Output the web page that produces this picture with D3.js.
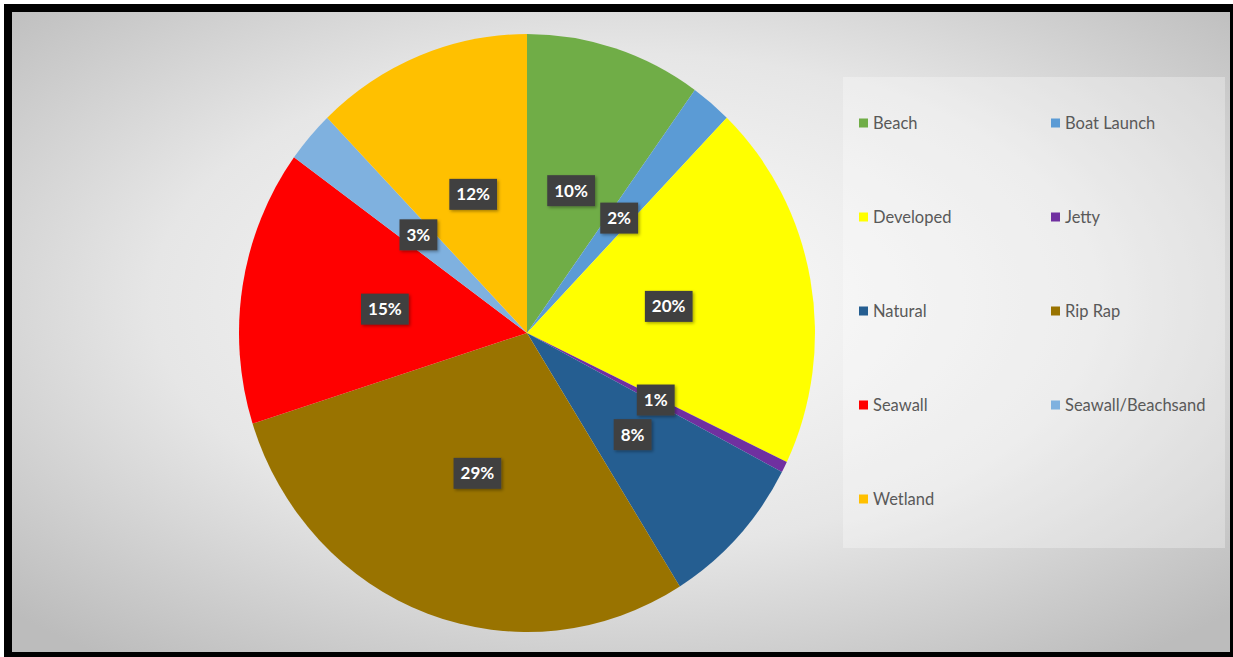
<!DOCTYPE html>
<html>
<head>
<meta charset="utf-8">
<style>
  body { margin: 0; background: #fff; }
  svg { display: block; }
  .lbl text { font-family: Lato, "Open Sans", sans-serif; font-weight: bold; font-size: 17px; fill: #fff; }
  .legend text { font-family: Lato, "Open Sans", sans-serif; font-size: 16.5px; fill: #595959; }
</style>
</head>
<body>
<svg width="1233" height="657"></svg>
<script src="https://cdn.jsdelivr.net/npm/d3@7"></script>
<script>

// shoreline types, clockwise from 12 o'clock
var categories = ["Beach", "Boat Launch", "Developed", "Jetty", "Natural", "Rip Rap", "Seawall", "Seawall/Beachsand", "Wetland"];
var values = [9.9, 2.3, 19.9, 0.6, 8.4, 29.0, 14.9, 2.8, 12.2];
var colors = ["#70ad47", "#5b9bd5", "#ffff00", "#7030a0", "#255e91", "#997300", "#ff0000", "#7fb1df", "#ffc000"];

var svg = d3.select("svg");

var defs = svg.append("defs");
var grad = defs.append("radialGradient")
    .attr("id", "bg")
    .attr("cx", "50%").attr("cy", "45%").attr("r", "70%");
grad.append("stop").attr("offset", "0%").attr("stop-color", "#fcfcfc");
grad.append("stop").attr("offset", "55%").attr("stop-color", "#e6e6e6");
grad.append("stop").attr("offset", "100%").attr("stop-color", "#bcbcbc");

var shadow = defs.append("filter").attr("id", "sh")
    .attr("x", "-20%").attr("y", "-20%").attr("width", "150%").attr("height", "150%");
shadow.append("feDropShadow")
    .attr("dx", 1.5).attr("dy", 1.5).attr("stdDeviation", 1.5)
    .attr("flood-color", "#000").attr("flood-opacity", 0.35);

// frame
svg.append("rect").attr("x", 4).attr("y", 4).attr("width", 1229).attr("height", 653).attr("fill", "#000");
svg.append("rect").attr("x", 12).attr("y", 12).attr("width", 1218).attr("height", 640).attr("fill", "url(#bg)");

// pie (picture is slightly squeezed horizontally)
var cx = 527, cy = 333, r = 299, sx = 288 / 299;

var pie = d3.pie().sort(null).value(function(d) { return d.value; });
var arc = d3.arc().innerRadius(0).outerRadius(r);

var data = categories.map(function(c, i) { return { name: c, value: values[i], color: colors[i] }; });
var total = d3.sum(values);
var arcs = pie(data);

var g = svg.append("g").attr("transform", "translate(" + cx + "," + cy + ") scale(" + sx + ",1)");

g.selectAll("path")
    .data(arcs)
    .enter().append("path")
    .attr("d", arc)
    .attr("fill", function(d) { return d.data.color; });

// data labels
var lbl = svg.append("g").attr("class", "lbl");

var lg = lbl.selectAll("g")
    .data(arcs)
    .enter().append("g")
    .attr("transform", function(d) {
      var c = arc.centroid(d);
      return "translate(" + (cx + c[0] * sx) + "," + (cy + c[1]) + ")";
    });

lg.append("text")
    .attr("text-anchor", "middle")
    .attr("dy", "0.36em")
    .text(function(d) { return Math.round(d.data.value / total * 100) + "%"; });

lg.each(function() {
  var t = d3.select(this).select("text");
  var b = t.node().getBBox();
  d3.select(this).insert("rect", "text")
      .attr("x", b.x - 7).attr("y", -15.5)
      .attr("width", b.width + 14).attr("height", 31)
      .attr("fill", "#404040")
      .attr("filter", "url(#sh)");
});

// legend
svg.append("rect")
    .attr("x", 843).attr("y", 77)
    .attr("width", 382).attr("height", 471)
    .attr("fill", "#ffffff").attr("fill-opacity", 0.3);

var legend = svg.append("g").attr("class", "legend")
    .selectAll("g")
    .data(data)
    .enter().append("g")
    .attr("transform", function(d, i) {
      var col = i % 2, row = Math.floor(i / 2);
      return "translate(" + (859 + col * 192) + "," + (123 + row * 94) + ")";
    });

legend.append("rect")
    .attr("x", 0).attr("y", -4.5)
    .attr("width", 9).attr("height", 9)
    .attr("fill", function(d) { return d.color; });

legend.append("text")
    .attr("x", 14)
    .attr("dy", "0.35em")
    .text(function(d) { return d.name; });

</script>
</body>
</html>
